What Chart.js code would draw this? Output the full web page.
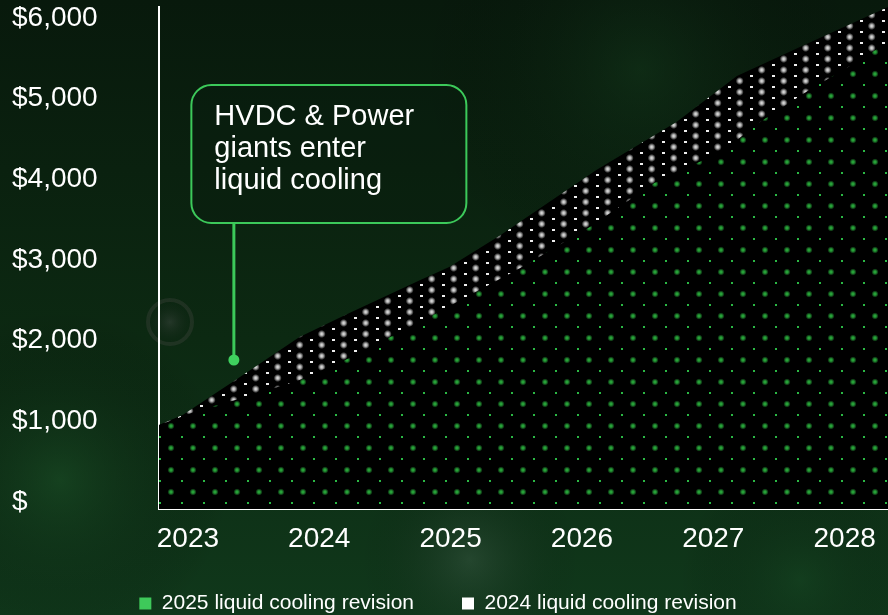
<!DOCTYPE html>
<html>
<head>
<meta charset="utf-8">
<script src="https://cdn.jsdelivr.net/npm/chart.js@4.4.1/dist/chart.umd.min.js"></script>
<style>
html, body { margin: 0; padding: 0; background: #0b2411; }
canvas { display: block; }
</style>
</head>
<body>
<canvas id="myChart" width="888" height="615"></canvas>
<script>
const years = [2023, 2024, 2025, 2026, 2027, 2028];
const yTicks = [0, 1000, 2000, 3000, 4000, 5000, 6000];
const yTickLabels = ['$', '$1,000', '$2,000', '$3,000', '$4,000', '$5,000', '$6,000'];

// 2025 liquid cooling revision (lower edge, green dots)
const rev2025X = [2022.78, 2023.09, 2023.47, 2023.85, 2024.23, 2024.88, 2025.53, 2026.06, 2026.55, 2027.09, 2027.32, 2027.73, 2028.04, 2028.33];
const rev2025Y = [955, 1141, 1314, 1512, 1785, 2331, 2901, 3409, 3955, 4364, 4674, 5108, 5405, 5703];

// 2024 liquid cooling revision (upper edge, white dots)
const rev2024X = [2022.78, 2022.96, 2023.34, 2023.85, 2024.23, 2024.77, 2024.99, 2025.37, 2026.11, 2026.72, 2027.18, 2027.66, 2028.33];
const rev2024Y = [955, 1079, 1488, 2045, 2343, 2752, 2913, 3298, 4116, 4711, 5281, 5641, 6136];

const labels = ['2025 liquid cooling revision', '2024 liquid cooling revision'];
const legendColors = ['#3ec95a', '#ffffff'];

// callout anchor
const noteX = 2023.35;
const noteY = 1760;
const noteLines = ['HVDC & Power', 'giants enter', 'liquid cooling'];

const FONT = '"Liberation Sans", Arial, sans-serif';
Chart.defaults.font.family = FONT;

function glowDot(g, x, y, r, rgb, a) {
    const grd = g.createRadialGradient(x, y, 0, x, y, r * 2);
    grd.addColorStop(0, 'rgba(' + rgb + ',' + a + ')');
    grd.addColorStop(0.4, 'rgba(' + rgb + ',' + (a * 0.75) + ')');
    grd.addColorStop(1, 'rgba(' + rgb + ',0)');
    g.fillStyle = grd;
    g.fillRect(x - r * 2, y - r * 2, r * 4, r * 4);
}

function makePattern(kind) {
    const c = document.createElement('canvas');
    c.width = 22; c.height = 22;
    const g = c.getContext('2d');
    g.fillStyle = '#000';
    g.fillRect(0, 0, 22, 22);
    if (kind === 'green') {
        glowDot(g, 17, 8, 1.8, '45,185,65', 1);
        g.fillStyle = '#2bb845';
        g.fillRect(5, 18, 2, 2);
    } else {
        glowDot(g, 13.7, 4, 2, '230,230,230', 1);
        glowDot(g, 13.7, 15, 2, '230,230,230', 1);
        g.fillStyle = '#eeeeee';
        g.fillRect(2, 9, 3, 2);
        g.fillRect(2, 20, 3, 2);
    }
    return document.getElementById('myChart').getContext('2d').createPattern(c, 'repeat');
}

const greenDots = makePattern('green');
const whiteDots = makePattern('white');

function spot(ctx, x, y, r, col) {
    const grd = ctx.createRadialGradient(x, y, 0, x, y, r);
    grd.addColorStop(0, col);
    grd.addColorStop(1, 'rgba(0,0,0,0)');
    ctx.fillStyle = grd;
    ctx.fillRect(x - r, y - r, r * 2, r * 2);
}

const bgPlugin = {
    id: 'bg',
    beforeDraw(chart) {
        const {ctx, width, height} = chart;
        ctx.save();
        const g = ctx.createLinearGradient(0, 0, 0, height);
        g.addColorStop(0, '#08190c');
        g.addColorStop(0.55, '#0c2912');
        g.addColorStop(1, '#10381b');
        ctx.fillStyle = g;
        ctx.fillRect(0, 0, width, height);
        spot(ctx, 60, 480, 170, 'rgba(30,85,42,0.45)');
        spot(ctx, 640, 70, 220, 'rgba(25,70,35,0.35)');
        spot(ctx, 470, 560, 110, 'rgba(110,130,120,0.22)');
        spot(ctx, 800, 580, 120, 'rgba(25,75,38,0.35)');
        spot(ctx, 170, 322, 26, 'rgba(110,100,110,0.25)');
        ctx.strokeStyle = 'rgba(140,115,130,0.15)';
        ctx.lineWidth = 4;
        ctx.beginPath();
        ctx.arc(170, 322, 22, 0, Math.PI * 2);
        ctx.stroke();
        ctx.restore();
    }
};

const calloutPlugin = {
    id: 'callout',
    afterDraw(chart) {
        const {ctx} = chart;
        const px = chart.scales.x.getPixelForValue(noteX);
        const py = chart.scales.y.getPixelForValue(noteY);
        const left = px - 42.5, bottom = py - 137, w = 275, h = 138;
        ctx.save();
        ctx.strokeStyle = '#3cc95a';
        ctx.lineWidth = 3;
        ctx.beginPath();
        ctx.moveTo(px, bottom);
        ctx.lineTo(px, py);
        ctx.stroke();
        ctx.fillStyle = 'rgba(8,30,14,0.35)';
        ctx.lineWidth = 2;
        ctx.beginPath();
        ctx.roundRect(left, bottom - h, w, h, 20);
        ctx.fill();
        ctx.stroke();
        ctx.fillStyle = '#3fd05e';
        ctx.beginPath();
        ctx.arc(px, py, 5.5, 0, Math.PI * 2);
        ctx.fill();
        ctx.fillStyle = '#ffffff';
        ctx.font = '29px ' + FONT;
        ctx.textBaseline = 'alphabetic';
        noteLines.forEach((t, i) => ctx.fillText(t, left + 23, bottom - h + 40 + i * 32));
        ctx.restore();
    }
};

const legendShift = {
    id: 'legendShift',
    afterLayout(chart) {
        const lg = chart.legend;
        lg.left -= 12; lg.right -= 12;
        lg.top -= 14; lg.bottom -= 14;
    }
};

const ctx = document.getElementById('myChart').getContext('2d');
const myChart = new Chart(ctx, {
    type: 'line',
    data: {
        datasets: [{
            label: labels[0],
            data: rev2025X.map((x, i) => ({x: x, y: rev2025Y[i]})),
            backgroundColor: greenDots,
            borderColor: 'rgba(0,0,0,0)',
            borderWidth: 0,
            pointRadius: 0,
            tension: 0,
            fill: 'start'
        }, {
            label: labels[1],
            data: rev2024X.map((x, i) => ({x: x, y: rev2024Y[i]})),
            backgroundColor: whiteDots,
            borderColor: 'rgba(0,0,0,0)',
            borderWidth: 0,
            pointRadius: 0,
            tension: 0,
            fill: 'start'
        }]
    },
    options: {
        responsive: false,
        animation: false,
        layout: { padding: { left: 12, top: 7, right: 0, bottom: -23 } },
        scales: {
            x: {
                type: 'linear',
                min: 2022.78,
                max: 2028.33,
                afterBuildTicks: s => { s.ticks = years.map(v => ({value: v})); },
                afterFit: s => { s.height = 50; s.paddingLeft = 0; s.paddingRight = 0; },
                grid: { display: false },
                border: { color: '#ffffff', width: 2 },
                ticks: {
                    color: '#ffffff',
                    font: { size: 28 },
                    padding: 5,
                    maxRotation: 0,
                    callback: v => String(v)
                }
            },
            y: {
                min: -87,
                max: 6136,
                afterBuildTicks: s => { s.ticks = yTicks.map(v => ({value: v})); },
                afterFit: s => { s.width = 147; s.paddingTop = 0; s.paddingBottom = 0; },
                grid: { display: false },
                border: { color: '#ffffff', width: 2 },
                ticks: {
                    color: '#ffffff',
                    font: { size: 28 },
                    crossAlign: 'far',
                    callback: v => yTickLabels[yTicks.indexOf(v)]
                }
            }
        },
        plugins: {
            legend: {
                position: 'bottom',
                labels: {
                    color: '#ffffff',
                    font: { size: 21 },
                    boxWidth: 12,
                    boxHeight: 12,
                    padding: 48,
                    generateLabels: chart => chart.data.datasets.map((ds, i) => ({
                        text: ds.label,
                        fillStyle: legendColors[i],
                        strokeStyle: legendColors[i],
                        lineWidth: 0,
                        hidden: false,
                        datasetIndex: i,
                        fontColor: '#ffffff'
                    }))
                }
            },
            tooltip: { enabled: false }
        }
    },
    plugins: [bgPlugin, calloutPlugin, legendShift]
});
</script>
</body>
</html>
